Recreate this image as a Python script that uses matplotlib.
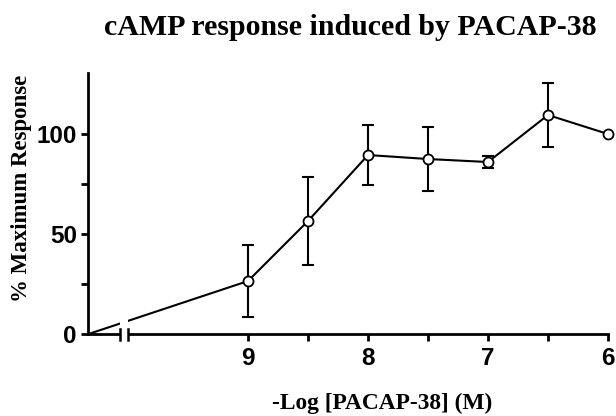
import numpy as np
import matplotlib
matplotlib.use('Agg')
import matplotlib.pyplot as plt
from matplotlib.patches import Rectangle
import matplotlib.transforms as mtransforms

# -log[PACAP-38] doses; 10.33 stands for the no-peptide control drawn at the origin
log_dose = [10.33, 9.0, 8.5, 8.0, 7.5, 7.0, 6.5, 6.0]
response = [0.0, 26.5, 56.5, 89.5, 87.5, 86.0, 109.5, 100.0]
sem = [0.0, 18.0, 22.0, 15.0, 16.0, 3.0, 16.0, 0.0]
x_major = [9, 8, 7, 6]
x_minor = [8.5, 7.5, 6.5]
y_major = [0, 50, 100]
y_minor = [25, 75]

fig = plt.figure(figsize=(6.16, 4.16), dpi=100)
ax = fig.add_axes([0.1429, 0.197, 0.8441, 0.6275])

ax.plot(log_dose, response, color='black', lw=1.5, zorder=3, clip_on=False)
ax.errorbar(log_dose[1:-1], response[1:-1], yerr=sem[1:-1], fmt='none',
            ecolor='black', elinewidth=1.5, capsize=4.5, capthick=1.5,
            zorder=3, clip_on=False)
ax.plot(log_dose[1:], response[1:], 'o', ms=7.2, mfc='white', mec='black',
        mew=1.3, zorder=4, clip_on=False)

ax.set_xlim(10.333, 6)
ax.set_ylim(0, 130.5)

for s in ['top', 'right']:
    ax.spines[s].set_visible(False)
for s in ['left', 'bottom']:
    ax.spines[s].set_linewidth(2)

ax.set_xticks(x_major)
ax.set_xticks(x_minor, minor=True)
ax.set_yticks(y_major)
ax.set_yticks(y_minor, minor=True)
ax.tick_params(which='both', length=5, width=2, direction='out')
ax.tick_params(axis='x', labelsize=17.5, pad=4)
ax.tick_params(axis='y', labelsize=17.5, pad=3)
for lab in ax.get_xticklabels() + ax.get_yticklabels():
    lab.set_fontfamily('Liberation Sans')
    lab.set_fontweight('bold')

# axis break between control and first dose
trans = mtransforms.blended_transform_factory(ax.transData, ax.transAxes)
gap = Rectangle((10.0, -0.03), 0.067, 0.2, transform=trans, facecolor='white',
                edgecolor='none', zorder=5, clip_on=False)
ax.add_patch(gap)
for bx in [10.067, 10.0]:
    ax.plot([bx, bx], [-0.022, 0.018], color='black', lw=1.8,
            transform=trans, zorder=6, clip_on=False)

serif = 'Liberation Serif'
fig.text(0.568, 0.916, 'cAMP response induced by PACAP-38', ha='center',
         va='baseline', fontsize=21.5, fontweight='bold', fontfamily=serif)
fig.text(0.621, 0.031, '-Log [PACAP-38] (M)', ha='center', va='center',
         fontsize=16.8, fontweight='bold', fontfamily=serif)
fig.text(0.035, 0.548, '% Maximum Response', ha='center', va='center',
         rotation=90, fontsize=16.5, fontweight='bold', fontfamily=serif)

fig.savefig('out.png', dpi=100)
